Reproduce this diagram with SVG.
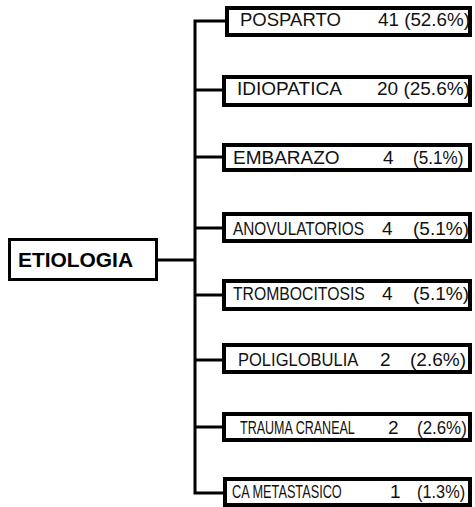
<svg xmlns="http://www.w3.org/2000/svg" width="475" height="507" viewBox="0 0 475 507">
<style>
.box{fill:#fff;stroke:#000;stroke-width:4}
.root{fill:#fff;stroke:#000;stroke-width:3}
.ln{fill:none;stroke:#000;stroke-width:3}
.t{font-family:"Liberation Sans",Arial,sans-serif;font-size:19px;fill:#111}
.b{font-family:"Liberation Sans",Arial,sans-serif;font-size:20px;font-weight:bold;fill:#000}
</style>
<rect width="475" height="507" fill="#fff"/>
<g id="connectors">
<path class="ln" d="M227,21 H195 V493 H225"/>
<line class="ln" x1="158" y1="260" x2="195" y2="260"/>
<line class="ln" x1="195" y1="90" x2="224" y2="90"/>
<line class="ln" x1="195" y1="157" x2="224" y2="157"/>
<line class="ln" x1="195" y1="228" x2="224" y2="228"/>
<line class="ln" x1="195" y1="295" x2="224" y2="295"/>
<line class="ln" x1="195" y1="360" x2="224" y2="360"/>
<line class="ln" x1="195" y1="427" x2="224" y2="427"/>
</g>
<g id="etiologia">
<rect class="root" x="9.5" y="239.5" width="147" height="40"/>
<text class="b" x="18" y="267" textLength="115" lengthAdjust="spacingAndGlyphs">ETIOLOGIA</text>
</g>
<g id="n1">
<rect class="box" x="227" y="8" width="243" height="27"/>
<text class="t" transform="translate(240,26) scale(0.975,1)">POSPARTO</text>
<text class="t" transform="translate(378,26) scale(0.99,1)">41 (52.6%)</text>
</g>
<g id="n2">
<rect class="box" x="224" y="77" width="246" height="28"/>
<text class="t" transform="translate(237,95)">IDIOPATICA</text>
<text class="t" transform="translate(377,95)">20 (25.6%)</text>
</g>
<g id="n3">
<rect class="box" x="224" y="145" width="246" height="25"/>
<text class="t" transform="translate(233,164)">EMBARAZO</text>
<text class="t" transform="translate(383,164)">4</text>
<text class="t" transform="translate(413,164) scale(0.9,1)">(5.1%)</text>
</g>
<g id="n4">
<rect class="box" x="224" y="214" width="246" height="27"/>
<text class="t" transform="translate(233,235) scale(0.81,1)">ANOVULATORIOS</text>
<text class="t" transform="translate(382,235)">4</text>
<text class="t" transform="translate(413,235)">(5.1%)</text>
</g>
<g id="n5">
<rect class="box" x="224" y="281" width="246" height="28"/>
<text class="t" transform="translate(233,300) scale(0.83,1)">TROMBOCITOSIS</text>
<text class="t" transform="translate(382,300)">4</text>
<text class="t" transform="translate(413,300)">(5.1%)</text>
</g>
<g id="n6">
<rect class="box" x="224" y="345" width="246" height="27"/>
<text class="t" transform="translate(238,366) scale(0.87,1)">POLIGLOBULIA</text>
<text class="t" transform="translate(380,366)">2</text>
<text class="t" transform="translate(410,366)">(2.6%)</text>
</g>
<g id="n7">
<rect class="box" x="224" y="414" width="246" height="26"/>
<text class="t" transform="translate(240,434) scale(0.66,1)">TRAUMA CRANEAL</text>
<text class="t" transform="translate(388,434)">2</text>
<text class="t" transform="translate(417,434) scale(0.89,1)">(2.6%)</text>
</g>
<g id="n8">
<rect class="box" x="225" y="479" width="245" height="26"/>
<text class="t" transform="translate(232,498) scale(0.67,1)">CA METASTASICO</text>
<text class="t" transform="translate(390,498)">1</text>
<text class="t" transform="translate(417,498) scale(0.86,1)">(1.3%)</text>
</g>
</svg>
